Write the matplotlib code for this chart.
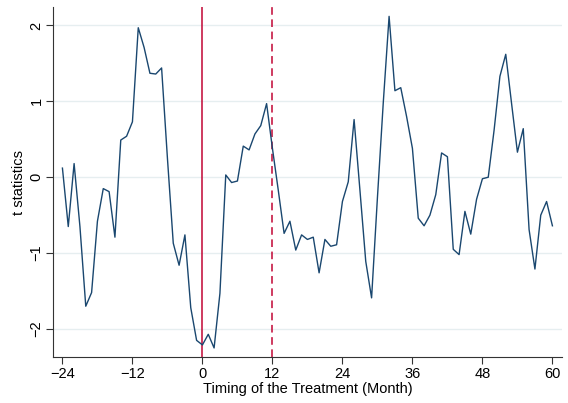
import matplotlib.pyplot as plt
import numpy as np

plt.rcParams['font.family'] = ['Liberation Sans', 'DejaVu Sans']
plt.rcParams['axes.unicode_minus'] = True

# event time in months, -24 .. 60
months = np.arange(-24, 61)

# t statistics
t_stats = [
    0.12, -0.65, 0.18, -0.65, -1.70, -1.52, -0.58, -0.15, -0.19, -0.79,
    0.49, 0.54, 0.73, 1.97, 1.71, 1.37, 1.36, 1.44, 0.25, -0.87,
    -1.16, -0.76, -1.72, -2.15, -2.21, -2.07, -2.25, -1.53, 0.03, -0.07,
    -0.05, 0.41, 0.36, 0.57, 0.68, 0.97, 0.38, -0.17, -0.74, -0.58,
    -0.96, -0.76, -0.82, -0.79, -1.26, -0.82, -0.91, -0.89, -0.32, -0.06,
    0.76, -0.17, -1.11, -1.59, -0.27, 0.98, 2.12, 1.14, 1.18, 0.80,
    0.38, -0.54, -0.64, -0.50, -0.23, 0.32, 0.27, -0.95, -1.02, -0.45,
    -0.75, -0.29, -0.02, 0.00, 0.62, 1.33, 1.62, 0.97, 0.33, 0.64,
    -0.69, -1.21, -0.50, -0.32, -0.64,
]

xticks = [-24, -12, 0, 12, 24, 36, 48, 60]
yticks = [-2, -1, 0, 1, 2]

navy = "#1a476f"
red = "#c10534"

fig = plt.figure(figsize=(5.68, 4.03), dpi=100)
ax = fig.add_axes([0.094, 0.114, 0.895, 0.868])

for yt in yticks:
    ax.axhline(yt, color="#e6eef0", lw=1.0, zorder=0)

ax.axvline(0, color=red, lw=1.1, zorder=1)
ax.axvline(12, color=red, lw=1.1, ls=(0, (5, 3)), zorder=1)

ax.plot(months, t_stats, color=navy, lw=1.0, zorder=2)

ax.set_xlim(-25.55, 61.6)
ax.set_ylim(-2.37, 2.24)
ax.set_xticks(xticks)
ax.set_xticklabels([str(x).replace("-", "\u2212") for x in xticks], fontsize=10.5)
ax.set_yticks(yticks)
ax.set_yticklabels([str(y).replace("-", "\u2212") for y in yticks], fontsize=10.5,
                   rotation=90, va="center")

ax.spines["top"].set_visible(False)
ax.spines["right"].set_visible(False)
ax.spines["left"].set_color("#333333")
ax.spines["bottom"].set_color("#333333")
ax.tick_params(length=5, width=0.8, color="#333333", pad=2)

ax.set_xlabel("Timing of the Treatment (Month)", fontsize=10.5, labelpad=1)
ax.set_ylabel("t statistics", fontsize=10.5, labelpad=3)

fig.savefig("out.png", dpi=100)
